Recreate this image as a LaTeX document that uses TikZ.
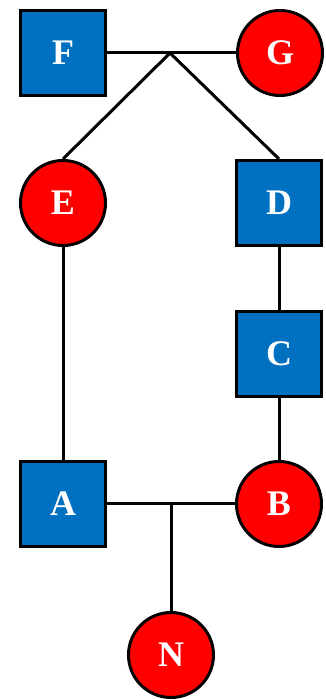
\documentclass[tikz,border=0pt]{standalone}
\usepackage{fontspec}
\setmainfont{Liberation Serif}
\definecolor{boxblue}{RGB}{0,112,192}
\definecolor{ballred}{RGB}{255,0,0}
\begin{document}
\begin{tikzpicture}[x=1pt,y=1pt,
  line width=3pt,
  sq/.style={draw=black, fill=boxblue, minimum size=85pt, inner sep=0pt,
    text=white, font=\fontsize{36}{36}\selectfont\bfseries},
  rd/.style={circle, draw=black, fill=ballred, minimum size=85pt, inner sep=0pt,
    text=white, font=\fontsize{36}{36}\selectfont\bfseries},
  link/.style={draw=black, line width=3pt}]
\useasboundingbox (0,0) rectangle (325,699);
\node[sq] (F) at (63,646) {F};
\node[rd] (G) at (280,646) {G};
\node[rd] (E) at (63,496) {E};
\node[sq] (D) at (279,496) {D};
\node[sq] (C) at (279,345) {C};
\node[sq] (A) at (63,195) {A};
\node[rd] (B) at (279,195) {B};
\node[rd] (N) at (171,44) {N};
\coordinate (top) at (170,646);
\coordinate (bot) at (171,195);
\path[link] (F.east) -- (G.west);
\path[link] (top) -- (E.north);
\path[link] (top) -- (D.north);
\path[link] (E.south) -- (A.north);
\path[link] (D.south) -- (C.north);
\path[link] (C.south) -- (B.north);
\path[link] (A.east) -- (B.west);
\path[link] (bot) -- (N.north);
\end{tikzpicture}
\end{document}
